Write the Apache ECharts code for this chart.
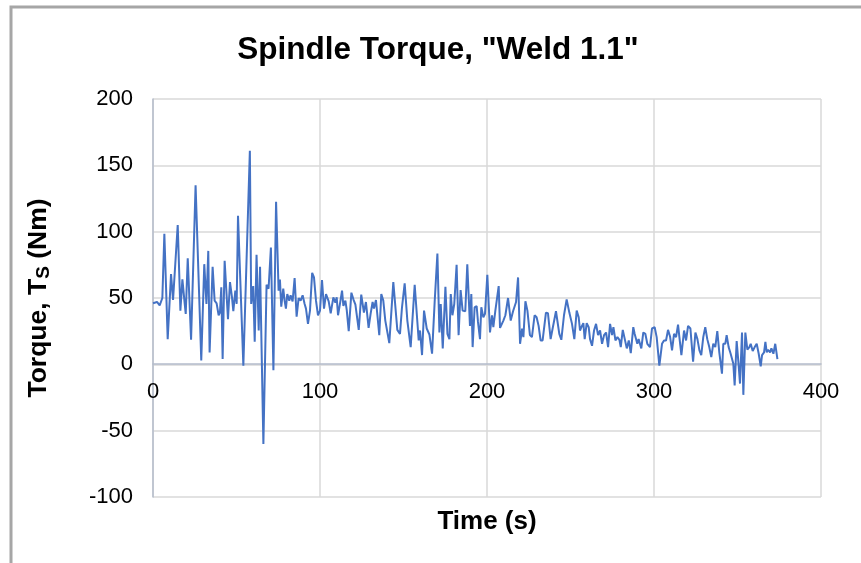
<!DOCTYPE html>
<html>
<head>
<meta charset="utf-8">
<script src="https://cdn.jsdelivr.net/npm/echarts@6/dist/echarts.min.js"></script>
<style>
html,body{margin:0;padding:0;background:#fff;}
#chart{width:861px;height:563px;}
</style>
</head>
<body>
<div id="chart"></div>
<script>
// Time (s)
var timeSec = [
0,2.4,4,5.6,6.8,8.8,10.8,12,13,14.8,16.4,17.6,18.8,19.6,20.8,22.8,25.5,28.9,30.7,32,33.1,33.9,
35.7,36.9,38.1,39.3,40.1,40.9,41.7,42.9,44.9,46.1,47.3,48.1,49.3,50.1,50.9,54.1,58,58.8,60,60.9,62,63.3,64.1,66.1,68,69.2,70.6,72.1,
73.7,75.2,76,76.8,78,78.8,79.6,80.4,81.6,82.4,83.6,84.8,86,87.2,88.4,89.6,90.8,91.6,92.8,94,95.3,96.4,97.6,98.8,100,101.2,102.4,103.6,105.2,106.4,108,
109.2,110,110.8,112,113.2,114,115.2,116,117.2,118.8,120,121.2,123.2,124.7,126.3,127.5,129.1,130.3,131.5,132.3,133.5,135.5,136.7,137.9,139.1,141.5,143.9,
146.3,147.9,149.1,150.7,152.3,154.3,156.7,159.1,159.9,161.1,162.3,163.9,165.5,166.3,167.1,168.7,170.3,171.5,172.3,173.5,175.1,176.3,177.5,178.3,
179.3,180.4,181.8,183,184.2,185.4,187,188.2,189.8,190.6,191.4,192.6,193.8,194.6,195.8,196.6,197.8,198.8,200.2,201.8,203,203.8,205,205.8,207,207.8,209.8,211,212.6,
214.2,215.6,217.4,218.6,219.8,221,221.8,223,224.2,225.7,226.9,228.5,229.7,230.9,232.1,233.3,235.3,236.5,238.1,239.3,241.3,242.1,243.3,244.5,246.1,247.7,249.3,250.9,252.3,
253.7,254.9,255.7,256.5,257.7,258.5,259.7,260.9,261.7,262.9,264.1,265.3,266.5,267.7,268.9,270.1,271.3,272.5,273.7,274.9,275.7,276.9,278.1,279.3,280.1,281.3,282.5,283.7,284.9,286.1,287.6,
288.4,289.2,290,290.8,292.4,293.6,294.8,296,297.6,298.8,300.4,301.6,303.2,304.8,306,307.2,308.4,309.6,310.8,312,313.2,314.4,315.2,316.4,318,319.2,320.4,321.8,323.4,
324.8,326,327.2,328.3,329.5,330.7,331.9,333.1,334.3,335.5,336.7,337.9,339.1,340.7,341.5,342.7,343.5,344.7,345.9,346.7,347.5,348.3,349.5,350.7,351.5,352.7,353.5,354.7,355.9,357.1,357.9,359.1,360.3,361.5,362.7,363.9,364.7,365.9,366.7,367.5,368.3,369.5,370.3,371.5,372.6,373.9
];
// Spindle torque Ts (Nm)
var torque = [
46,47,44.5,50,98.5,19,68,48.5,50,105,40.5,64,48,38,80,18.5,135,3,75.5,45.5,85.5,9,
73.5,48,46,37,39,58,4,78,34,62,50.5,40,55.5,45.5,112,-1,161,45.5,59,17,82.5,25.5,73.5,-60,60,57,88,-4.5,
122.5,55.5,64,43.5,57,48,42,53,48,52,47.5,65,36,50,48,52,45.5,42,30.5,40.5,69,65.5,48,37,40.5,63.5,42,53,47.5,38.5,50.5,
46.5,50.5,37,46,55.5,44,48,41,25,54,49,45,26,52.5,39,47,27.5,38,47,42,48.5,22,53,48,33,16,62,
26,23,43,61,33,13,60,18,25.5,7,40.5,27,22.5,24,8,48,83.5,24,45.5,12,58.5,23,19,53,
37,45.5,75,22,56,40.5,40,75.5,29,53,13,43,44,32,19,43,35.5,38,67.5,24,37,28,40.5,40.5,59,27.5,33,37,50,
33,40,47,65.5,15.5,27,20.5,47.5,40.5,22,20.5,37,35.5,29,18,18,39,38.5,19,27,40,40.5,23,18.5,37,49,39,30.5,19,
40.5,35.5,25.5,28,31,19,31,28,19,14,25.5,30.5,22,25.5,15.5,22,24,13,30.5,22,28,18,20.5,18.5,13,26,19,12,18,8.5,28,
23,23,15.5,19,12,24,23,15.5,13,27,28,20.5,-1,15.5,18,18,26,21,10.5,23,20.5,30,20.5,7,25.5,18,29,27,2,
24,19,10.5,7,20.5,28,19,13,5.5,15.5,13,25,9,-7,15.5,15.5,22,13,8,8,0.5,-16,17.5,-1,-14.5,24,-23,24,11,13,15.5,10,13,15.5,8,-1.5,7,9,17,9,11,9,12,8,15.5,4
];
var xTicks = {min: 0, max: 400, interval: 100};
var yTicks = {min: -100, max: 200, interval: 50};

var seriesData = timeSec.map(function (t, i) { return [t, torque[i]]; });

var chart = echarts.init(document.getElementById('chart'), null, {renderer: 'canvas'});
var font = 'Liberation Sans, Arial, sans-serif';
chart.setOption({
  animation: false,
  backgroundColor: '#ffffff',
  title: {
    text: 'Spindle Torque, "Weld 1.1"',
    left: 433,
    textAlign: 'center',
    top: 29,
    textStyle: {fontFamily: font, fontSize: 31.5, fontWeight: 'bold', color: '#000'}
  },
  graphic: [{
    type: 'polyline',
    shape: {points: [[11, 563], [11, 7], [861, 7]]},
    style: {stroke: '#a6a6a6', lineWidth: 3, fill: null}
  }],
  grid: {left: 153, right: 40, top: 99, bottom: 66, containLabel: false, outerBoundsMode: 'none'},
  xAxis: {
    type: 'value',
    min: xTicks.min, max: xTicks.max, interval: xTicks.interval,
    offset: -133,
    name: 'Time (s)',
    nameLocation: 'middle',
    nameGap: 145,
    nameTextStyle: {fontFamily: font, fontSize: 26, fontWeight: 'bold', color: '#000'},
    axisLine: {onZero: false, lineStyle: {color: '#b4bccb', width: 1.5}},
    axisTick: {show: false},
    axisLabel: {fontFamily: font, fontSize: 22, color: '#000', margin: 17},
    splitLine: {show: true, lineStyle: {color: '#d9d9d9', width: 1.5}}
  },
  yAxis: {
    type: 'value',
    min: yTicks.min, max: yTicks.max, interval: yTicks.interval,
    name: '{b|Torque, T}{s|S}{b| (Nm)}',
    nameLocation: 'middle',
    nameGap: 100,
    nameTextStyle: {
      rich: {
        b: {fontFamily: font, fontSize: 26.5, fontWeight: 'bold', color: '#000', lineHeight: 28},
        s: {fontFamily: font, fontSize: 19, fontWeight: 'bold', color: '#000', lineHeight: 20, verticalAlign: 'bottom'}
      }
    },
    axisLine: {show: true, onZero: false, lineStyle: {color: '#b4bccb', width: 1.5}},
    axisTick: {show: false},
    axisLabel: {fontFamily: font, fontSize: 22, color: '#000', margin: 20},
    splitLine: {show: true, lineStyle: {color: '#d9d9d9', width: 1.5}}
  },
  series: [{
    type: 'line',
    data: seriesData,
    showSymbol: false,
    symbol: 'none',
    lineStyle: {color: '#4472c4', width: 2},
    z: 3
  }]
});
</script>
</body>
</html>
